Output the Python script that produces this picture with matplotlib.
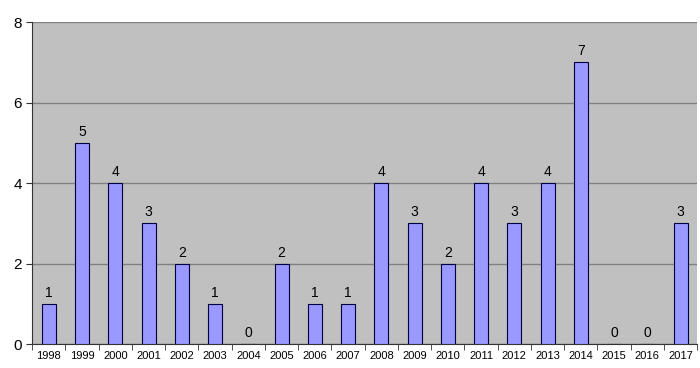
import matplotlib.pyplot as plt
import numpy as np

years = [str(y) for y in range(1998, 2018)]
counts = [1, 5, 4, 3, 2, 1, 0, 2, 1, 1, 4, 3, 2, 4, 3, 4, 7, 0, 0, 3]

fig = plt.figure(figsize=(7, 3.68), dpi=100)
ax = fig.add_axes([0.046, 0.065, 0.95, 0.875])
ax.set_facecolor('#C0C0C0')

x = np.arange(len(years))
ax.bar(x, counts, width=0.42, color='#9999FF', edgecolor='#000040', linewidth=0.8, zorder=3)
for xi, c in zip(x, counts):
    ax.text(xi, c + 0.1, str(c), ha='center', va='bottom', fontsize=10, fontfamily='Liberation Sans')

ax.set_xlim(-0.5, len(years) - 0.5)
ax.set_ylim(0, 8)
ax.set_yticks([0, 2, 4, 6, 8])
ax.yaxis.grid(True, color='#808080', linewidth=1, zorder=0)
ax.set_xticks(x)
ax.set_xticklabels(years, fontsize=8, fontfamily='Liberation Sans')
ax.set_xticks(np.arange(-0.5, len(years), 1), minor=True)
ax.tick_params(axis='x', which='major', length=0, pad=5)
ax.tick_params(axis='x', which='minor', length=4, direction='out', color='#333333')
ax.tick_params(axis='y', length=4, direction='out', labelsize=11, color='#333333')
for lbl in ax.get_yticklabels():
    lbl.set_fontfamily('Liberation Sans')
for s in ['top', 'right']:
    ax.spines[s].set_visible(False)
ax.spines['left'].set_color('#333333')
ax.spines['bottom'].set_color('#333333')

fig.savefig('out.png', dpi=100)
